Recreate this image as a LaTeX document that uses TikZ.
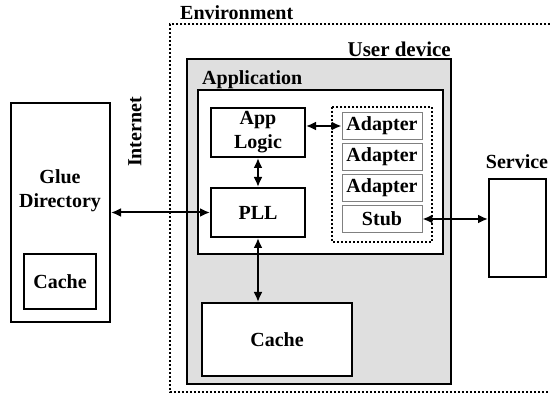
\documentclass[tikz,border=0pt]{standalone}
\usepackage{fontspec}
\setmainfont{Liberation Serif}
\usetikzlibrary{arrows.meta}

\tikzset{
  box/.style={draw=black, line width=2pt, fill=white, align=center, inner sep=0pt, font=\fontsize{20}{24}\selectfont\bfseries},
  adapterbox/.style={draw=gray, line width=0.8pt, fill=white, minimum width=80pt, minimum height=27pt, inner sep=0pt, font=\fontsize{20}{24}\selectfont\bfseries},
  lbl/.style={inner sep=0pt, font=\fontsize{20}{24}\selectfont\bfseries},
  link/.style={line width=2pt, {Latex[length=10pt,width=9pt]}-{Latex[length=10pt,width=9pt]}}
}

\begin{document}
\begin{tikzpicture}[x=1pt, y=-1pt]
\useasboundingbox (0,0) rectangle (550,395);
% Environment
\draw [line width=2pt, dotted] (550,24) -- (170,24) -- (170,392) -- (550,392);
\node [lbl, anchor=west] (envlabel) at (180,13) {Environment};
% User device
\draw [fill=gray!25, draw=black, line width=2pt] (187,59) rectangle (451,384);
\node [lbl, anchor=east, font=\fontsize{21}{24}\selectfont\bfseries] (devlabel) at (451,49) {User device};
% Application
\draw [fill=white, draw=black, line width=2pt] (198,90) rectangle (443,254);
\node [lbl, anchor=west] (applabel) at (202,80) {Application};
% Internet
\node [lbl, rotate=90] (netlabel) at (135,132) {Internet};
% Adapters
\draw [line width=2pt, dotted] (332,107) rectangle (432,242);
\node [adapterbox] (adapter1) at (382,126) {Adapter};
\node [adapterbox] (adapter2) at (382,157) {Adapter};
\node [adapterbox] (adapter3) at (382,188) {Adapter};
\node [adapterbox] (stub) at (382,219) {Stub};
% App logic and PLL
\node [box, minimum width=94pt, minimum height=49pt] (applogic) at (258,132.5) {App\\Logic};
\node [box, minimum width=94pt, minimum height=49pt] (pll) at (258,212.5) {PLL};
% Cache
\node [box, minimum width=150pt, minimum height=73pt] (devcache) at (277,339.5) {Cache};
% Glue directory
\node [box, minimum width=99pt, minimum height=219pt] (glue) at (60.5,212.5) {};
\node [lbl, align=center] (gluelabel) at (60,191) {Glue\\Directory};
\node [box, minimum width=72pt, minimum height=55pt] (gluecache) at (60,281.5) {Cache};
% Service
\node [box, minimum width=57pt, minimum height=98pt] (service) at (517.5,228) {};
\node [lbl] (servlabel) at (517,162) {Service};
% Links
\draw [link] (applogic.east |- adapter1) -- (adapter1.west);
\draw [link] (applogic.south) -- (pll.north);
\draw [link] (glue.east |- pll) -- (pll.west);
\draw [link] (pll.south) -- (pll.south |- devcache.north);
\draw [link] (stub.east) -- (stub.east -| service.west);
\end{tikzpicture}
\end{document}
